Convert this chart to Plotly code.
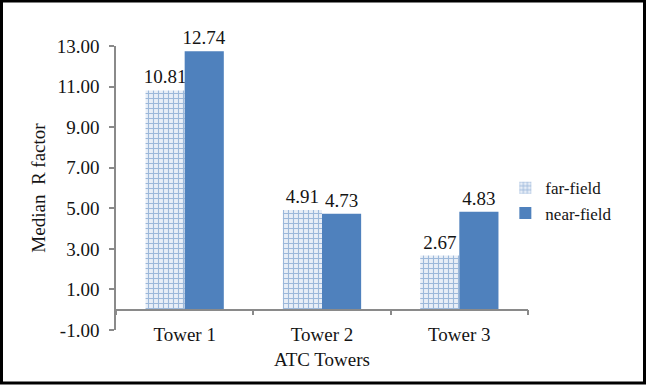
import plotly.graph_objects as go

categories = ["Tower 1", "Tower 2", "Tower 3"]
far_field = [10.81, 4.91, 2.67]
near_field = [12.74, 4.73, 4.83]
series_names = ["far-field", "near-field"]
y_tick_values = [-1, 1, 3, 5, 7, 9, 11, 13]
y_tick_labels = [f"{v:.2f}" for v in y_tick_values]

W, H = 646, 385
ML, MR, MT, MB = 116, 118, 46, 55
PW, PH = W - ML - MR, H - MT - MB

FONT = "Liberation Serif"
TXT = "#141414"
BLUE = "#4f81bd"
AXC = "#8a8a8a"

fig = go.Figure()
fig.add_trace(go.Bar(
    x=categories, y=far_field, name=series_names[0],
    marker=dict(color="white", line=dict(width=0),
                pattern=dict(shape="+", fgcolor=BLUE, bgcolor="#e8eef7", size=5, solidity=0.4)),
    text=[f"{v:.2f}" for v in far_field], textposition="outside",
    textfont=dict(family=FONT, size=19, color=TXT), cliponaxis=False,
    constraintext="none",
))
fig.add_trace(go.Bar(
    x=categories, y=near_field, name=series_names[1],
    marker=dict(color=BLUE, line=dict(width=0)),
    text=[f"{v:.2f}" for v in near_field], textposition="outside",
    textfont=dict(family=FONT, size=19, color=TXT), cliponaxis=False,
    constraintext="none",
))

zero_pos = (0 - y_tick_values[0]) / (y_tick_values[-1] - y_tick_values[0])

fig.update_layout(
    width=W, height=H,
    margin=dict(l=ML, r=MR, t=MT, b=MB, pad=0),
    paper_bgcolor="white", plot_bgcolor="white",
    barmode="group", bargap=0.43, bargroupgap=0,
    font=dict(family=FONT, color=TXT, size=19),
    showlegend=True,
    legend=dict(x=0.945, xanchor="left", y=0.455, yanchor="middle",
                font=dict(family=FONT, size=17, color=TXT),
                bgcolor="rgba(0,0,0,0)", tracegroupgap=0, itemwidth=30),
    xaxis=dict(
        type="category", range=[-0.5, 2.5],
        anchor="free", position=zero_pos,
        showline=True, linecolor=AXC, linewidth=1.5,
        ticks="outside", tickson="boundaries", ticklen=5, tickcolor=AXC, tickwidth=1.5,
        showgrid=False, zeroline=False,
        tickfont=dict(family=FONT, size=19, color=TXT),
        ticklabelstandoff=8,
        title=dict(text="ATC Towers", font=dict(family=FONT, size=19, color=TXT), standoff=7),
    ),
    yaxis=dict(
        range=[y_tick_values[0], y_tick_values[-1]],
        tickvals=y_tick_values, ticktext=y_tick_labels,
        showline=True, linecolor=AXC, linewidth=1.5,
        ticks="outside", ticklen=5, tickcolor=AXC, tickwidth=1.5,
        showgrid=False, zeroline=False,
        tickfont=dict(family=FONT, size=19, color=TXT),
        ticklabelstandoff=6,
        title=dict(text="Median\u00a0\u00a0R factor", font=dict(family=FONT, size=19, color=TXT), standoff=6),
    ),
)

# outer frame around the whole image
fig.add_shape(
    type="rect", xref="paper", yref="paper",
    x0=(-ML + 1.5) / PW, x1=(W - ML - 1.5) / PW,
    y0=(-MB + 2) / PH, y1=(PH + MT - 1) / PH,
    line=dict(color="black", width=3), fillcolor="rgba(0,0,0,0)", layer="above",
)

fig.write_html("out.html")
